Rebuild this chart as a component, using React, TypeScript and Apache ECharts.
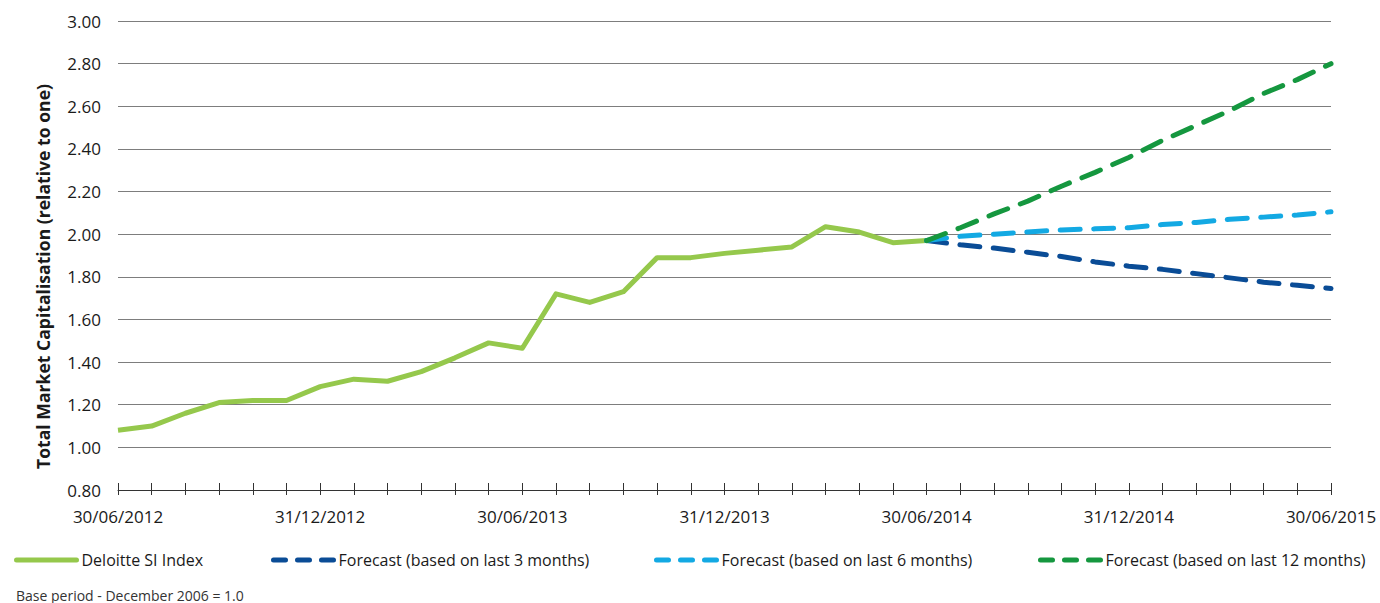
import React, { useEffect, useRef } from "react";
import * as echarts from "echarts";

// Month-end observation dates, 30/06/2012 to 30/06/2015
const months: string[] = [
  "30/06/2012", "31/07/2012", "31/08/2012", "30/09/2012", "31/10/2012", "30/11/2012",
  "31/12/2012", "31/01/2013", "28/02/2013", "31/03/2013", "30/04/2013", "31/05/2013",
  "30/06/2013", "31/07/2013", "31/08/2013", "30/09/2013", "31/10/2013", "30/11/2013",
  "31/12/2013", "31/01/2014", "28/02/2014", "31/03/2014", "30/04/2014", "31/05/2014",
  "30/06/2014", "31/07/2014", "31/08/2014", "30/09/2014", "31/10/2014", "30/11/2014",
  "31/12/2014", "31/01/2015", "28/02/2015", "31/03/2015", "30/04/2015", "31/05/2015",
  "30/06/2015",
];

// Deloitte SI Index (relative to December 2006 = 1.0)
const siIndex: number[] = [
  1.08, 1.10, 1.16, 1.21, 1.22, 1.22, 1.285, 1.32, 1.31, 1.355, 1.42, 1.49, 1.465,
  1.72, 1.68, 1.73, 1.89, 1.89, 1.91, 1.925, 1.94, 2.035, 2.01, 1.96, 1.97,
];

// Forecasts, starting from the last observed value (30/06/2014)
const forecast3m: number[] = [
  1.97, 1.95, 1.935, 1.915, 1.895, 1.87, 1.85, 1.835, 1.815, 1.795, 1.775, 1.76, 1.745,
];
const forecast6m: number[] = [
  1.97, 1.99, 2.0, 2.01, 2.02, 2.025, 2.03, 2.045, 2.055, 2.07, 2.08, 2.09, 2.105,
];
const forecast12m: number[] = [
  1.97, 2.03, 2.095, 2.155, 2.225, 2.29, 2.36, 2.44, 2.51, 2.58, 2.66, 2.725, 2.8,
];

const seriesNames = [
  "Deloitte SI Index",
  "Forecast (based on last 3 months)",
  "Forecast (based on last 6 months)",
  "Forecast (based on last 12 months)",
];

const FONT = "'Open Sans', 'Noto Sans', sans-serif";
const TEXT = "#1a1a1a";
const COLORS = ["#95c84c", "#0a4c96", "#13a9e3", "#15973f"];

const forecastOffset = siIndex.length - 1;
const pad = (vals: number[]) =>
  (new Array(forecastOffset).fill(null) as (number | null)[]).concat(vals);

export default function App() {
  const ref = useRef<HTMLDivElement>(null);

  useEffect(() => {
    if (!ref.current) return;
    const chart = echarts.init(ref.current, undefined, { renderer: "svg" });

    const forecastLine = (name: string, color: string, vals: number[]) => ({
      name,
      type: "line",
      data: pad(vals),
      showSymbol: false,
      symbol: "none",
      connectNulls: false,
      color,
      lineStyle: { color, width: 5, type: [20, 13.5], cap: "round", join: "round" },
    });

    const legendAt = (name: string, left: number, dashed: boolean) => ({
      data: [name],
      left,
      top: 552,
      padding: 0,
      orient: "horizontal",
      itemWidth: 60,
      itemHeight: 14,
      textStyle: { fontFamily: FONT, fontSize: 16, color: TEXT },
      // hide the marker symbol that line series put in their legend icon
      itemStyle: { opacity: 0, color: "transparent", borderWidth: 0 },
      lineStyle: dashed
        ? { width: 5, type: [12, 12], cap: "round", opacity: 1 }
        : { width: 5, type: "solid", cap: "round", opacity: 1 },
      selectedMode: false,
    });

    chart.setOption({
      animation: false,
      backgroundColor: "#ffffff",
      grid: {
        left: 118,
        right: 49,
        top: 21,
        bottom: 113,
        containLabel: false,
        outerBoundsMode: "none",
      },
      xAxis: [
        {
          type: "category",
          position: "bottom",
          data: months,
          boundaryGap: false,
          axisLine: { show: true, lineStyle: { color: "#333333", width: 1 } },
          axisTick: {
            show: true,
            inside: false,
            length: 5,
            interval: 0,
            lineStyle: { color: "#333333", width: 1 },
          },
          axisLabel: {
            interval: 5,
            margin: 18,
            fontFamily: FONT,
            fontSize: 17,
            color: TEXT,
          },
          splitLine: { show: false },
        },
        {
          type: "category",
          position: "bottom",
          data: months,
          boundaryGap: false,
          min: 0,
          max: months.length - 1,
          axisLine: { show: false },
          axisTick: {
            show: true,
            inside: true,
            length: 7,
            interval: 0,
            lineStyle: { color: "#333333", width: 1 },
          },
          axisLabel: { show: false },
          splitLine: { show: false },
        },
      ],
      yAxis: {
        type: "value",
        min: 0.8,
        max: 3.0,
        interval: 0.2,
        axisLine: { show: false },
        axisTick: { show: false },
        axisLabel: {
          margin: 17,
          fontFamily: FONT,
          fontSize: 17,
          color: TEXT,
          formatter: (v: number) => v.toFixed(2),
        },
        splitLine: { show: true, lineStyle: { color: "#7d7d7d", width: 1 } },
      },
      legend: [
        legendAt(seriesNames[0], 14, false),
        legendAt(seriesNames[1], 271, true),
        legendAt(seriesNames[2], 654, true),
        legendAt(seriesNames[3], 1038, true),
      ],
      series: [
        {
          name: seriesNames[0],
          type: "line",
          data: siIndex,
          showSymbol: false,
          symbol: "none",
          color: COLORS[0],
          lineStyle: { color: COLORS[0], width: 5, join: "round", cap: "butt" },
        },
        forecastLine(seriesNames[1], COLORS[1], forecast3m),
        forecastLine(seriesNames[2], COLORS[2], forecast6m),
        forecastLine(seriesNames[3], COLORS[3], forecast12m),
      ],
      graphic: [
        {
          // value-axis title
          type: "text",
          x: 42.5,
          y: 276.5,
          rotation: Math.PI / 2,
          style: {
            text: "Total Market Capitalisation (relative to one)",
            x: 0,
            y: 0,
            align: "center",
            verticalAlign: "middle",
            fontFamily: FONT,
            fontSize: 17.6,
            fontWeight: "bold",
            fill: TEXT,
          },
        },
        {
          type: "text",
          left: 16,
          top: 588,
          style: {
            text: "Base period - December 2006 = 1.0",
            fontFamily: FONT,
            fontSize: 14,
            fill: "#333333",
          },
        },
      ],
    });

    return () => chart.dispose();
  }, []);

  return <div ref={ref} style={{ width: 1380, height: 603, position: "absolute", left: 0, top: 0 }} />;
}
